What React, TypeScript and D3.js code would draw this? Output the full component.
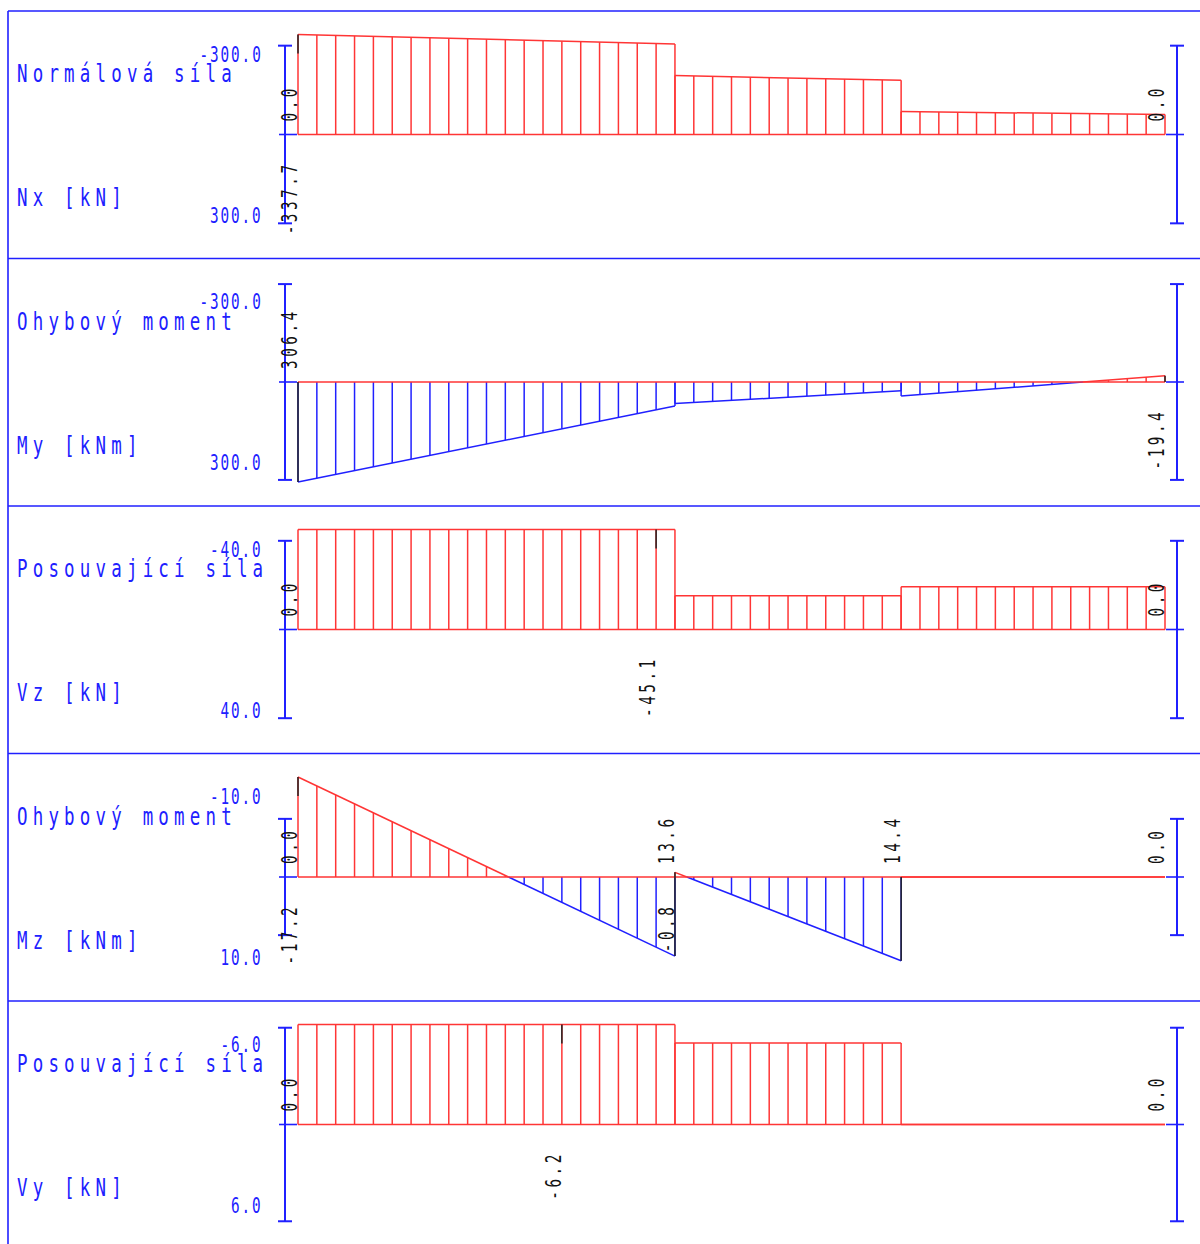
import React, { useEffect, useRef } from 'react';
import * as d3 from 'd3';

const W = 1200, H = 1244;

// beam elements, in hatch divisions along the member
const elemFrom = [0, 20, 32];
const elemTo = [20, 32, 46];

const titles = ['Normálová síla', 'Ohybový moment', 'Posouvající síla', 'Ohybový moment', 'Posouvající síla'];
const units = ['Nx [kN]', 'My [kNm]', 'Vz [kN]', 'Mz [kNm]', 'Vy [kN]'];
const tickValues = [300, 300, 40, 10, 6];
const topTickLabels = ['-300.0', '-300.0', '-40.0', '-10.0', '-6.0'];
const bottomTickLabels = ['300.0', '300.0', '40.0', '10.0', '6.0'];

// values at start / end of each element
const nxStart = [-337.7, -199.0, -77.5];
const nxEnd = [-305.7, -183.0, -67.4];
const myStart = [306.4, 66.0, 43.0];
const myEnd = [73.6, 27.0, -19.4];
const vzStart = [-45.1, -15.2, -19.3];
const vzEnd = [-45.1, -15.2, -19.3];
const mzStart = [-17.2, -0.8, 0];
const mzEnd = [13.6, 14.4, 0];
const vyStart = [-6.2, -5.05, 0];
const vyEnd = [-6.2, -5.05, 0];

// printed values (division, text, side of the zero line)
const nxLabels = [{ at: 0, text: '0.0', side: 'up' }, { at: 0, text: '-337.7', side: 'down' }, { at: 46, text: '0.0', side: 'up' }];
const myLabels = [{ at: 0, text: '306.4', side: 'up' }, { at: 46, text: '-19.4', side: 'down' }];
const vzLabels = [{ at: 0, text: '0.0', side: 'up' }, { at: 19, text: '-45.1', side: 'down' }, { at: 46, text: '0.0', side: 'up' }];
const mzLabels = [
  { at: 0, text: '0.0', side: 'up' }, { at: 0, text: '-17.2', side: 'down' },
  { at: 20, text: '13.6', side: 'up' }, { at: 20, text: '-0.8', side: 'down' },
  { at: 32, text: '14.4', side: 'up' }, { at: 46, text: '0.0', side: 'up' },
];
const vyLabels = [{ at: 0, text: '0.0', side: 'up' }, { at: 14, text: '-6.2', side: 'down' }, { at: 46, text: '0.0', side: 'up' }];

// extreme value markers
const nxMarks = [{ at: 0, value: -337.7 }];
const myMarks = [{ at: 0, value: 306.4 }, { at: 46, value: -19.4 }];
const vzMarks = [{ at: 19, value: -45.1 }];
const mzMarks = [{ at: 0, value: -17.2 }, { at: 20, value: 13.6 }, { at: 20, value: -0.8 }, { at: 32, value: 14.4 }];
const vyMarks = [{ at: 14, value: -6.2 }];

const seriesStart = [nxStart, myStart, vzStart, mzStart, vyStart];
const seriesEnd = [nxEnd, myEnd, vzEnd, mzEnd, vyEnd];
const seriesLabels = [nxLabels, myLabels, vzLabels, mzLabels, vyLabels];
const seriesMarks = [nxMarks, myMarks, vzMarks, mzMarks, vyMarks];

const BLUE = '#2020ff';
const RED = '#ff3535';
const FONT = 'DejaVu Sans Mono';

function plotText(g, str, x, y, o) {
  g.append('text')
    .attr('transform', `translate(${x},${y}) rotate(${o.rotate || 0}) scale(${o.sx},1)`)
    .attr('font-family', FONT)
    .attr('font-size', o.size)
    .attr('letter-spacing', o.ls)
    .attr('fill', o.fill)
    .text(str);
}

const App = () => {
  const ref = useRef(null);

  useEffect(() => {
    const svg = d3.select(ref.current);
    svg.selectAll('*').remove();

    const x = d3.scaleLinear().domain([0, 46]).range([298, 1165]);
    const panelH = 247.5;
    const axisL = 285, axisR = 1177;

    // panel frames
    d3.range(5).forEach(i => {
      const t = 11 + i * panelH;
      svg.append('line').attr('x1', 8).attr('x2', W).attr('y1', t).attr('y2', t)
        .attr('stroke', BLUE).attr('stroke-width', 1.6);
    });
    svg.append('line').attr('x1', 8).attr('x2', 8).attr('y1', 11).attr('y2', H)
      .attr('stroke', BLUE).attr('stroke-width', 1.6);

    d3.range(5).forEach(i => {
      const top = 11 + i * panelH;
      const zero = top + 123.5;
      const v0s = seriesStart[i], v1s = seriesEnd[i];
      const maxAbs = d3.max(v0s.concat(v1s), v => Math.abs(v));
      const y = d3.scaleLinear().domain([-maxAbs, maxAbs]).range([zero - 100, zero + 100]);
      const g = svg.append('g');
      const tv = tickValues[i];

      // titles and scale labels
      plotText(g, titles[i], 17, top + 71, { size: 25, sx: 0.7, ls: 7.4, fill: BLUE });
      plotText(g, units[i], 17, top + 195, { size: 25, sx: 0.7, ls: 7.4, fill: BLUE });
      const tl = topTickLabels[i], bl = bottomTickLabels[i];
      plotText(g, tl, 262.5 - tl.length * 10.5, top + 50.5, { size: 20.5, sx: 0.7, ls: 2.7, fill: BLUE });
      plotText(g, bl, 262.5 - bl.length * 10.5, top + 211.5, { size: 20.5, sx: 0.7, ls: 2.7, fill: BLUE });

      // scale axes on both sides
      [axisL, axisR].forEach((ax, k) => {
        g.append('line').attr('x1', ax).attr('x2', ax).attr('y1', y(-tv)).attr('y2', y(tv))
          .attr('stroke', BLUE).attr('stroke-width', 2);
        [-tv, tv].forEach(v => {
          g.append('line').attr('x1', ax - 7).attr('x2', ax + 7).attr('y1', y(v)).attr('y2', y(v))
            .attr('stroke', BLUE).attr('stroke-width', 2);
        });
        g.append('line').attr('x1', k === 0 ? ax - 6 : ax - 11).attr('x2', k === 0 ? ax + 12 : ax + 7)
          .attr('y1', y(0)).attr('y2', y(0)).attr('stroke', BLUE).attr('stroke-width', 1.6);
      });

      // hatch
      elemFrom.forEach((f, e) => {
        const t = elemTo[e], a = v0s[e], b = v1s[e];
        d3.range(f, t + 1).forEach(d => {
          const v = a + (b - a) * (d - f) / (t - f);
          if (v === 0) return;
          g.append('line').attr('x1', x(d)).attr('x2', x(d)).attr('y1', y(0)).attr('y2', y(v))
            .attr('stroke', v < 0 ? RED : BLUE).attr('stroke-width', 1.5);
        });
      });

      // diagram outline
      const line = d3.line().x(p => x(p[0])).y(p => y(p[1]));
      elemFrom.forEach((f, e) => {
        const t = elemTo[e], a = v0s[e], b = v1s[e];
        let parts = [[[f, a], [t, b]]];
        if (a * b < 0) {
          const c = f + (t - f) * a / (a - b);
          parts = [[[f, a], [c, 0]], [[c, 0], [t, b]]];
        }
        parts.forEach(p => {
          const s = p[0][1] + p[1][1];
          g.append('path').attr('d', line(p)).attr('fill', 'none')
            .attr('stroke', s <= 0 ? RED : BLUE).attr('stroke-width', 1.5);
        });
      });
      g.append('line').attr('x1', x(0)).attr('x2', x(46)).attr('y1', y(0)).attr('y2', y(0))
        .attr('stroke', RED).attr('stroke-width', 1.7);

      // extreme markers
      seriesMarks[i].forEach(m => {
        const y1 = y(m.value);
        const full = Math.abs(y(0) - y1);
        const len = m.value < 0 ? Math.min(full, 19) : full;
        g.append('line').attr('x1', x(m.at)).attr('x2', x(m.at))
          .attr('y1', y1).attr('y2', y1 + Math.sign(y(0) - y1) * len)
          .attr('stroke', '#222').attr('stroke-width', 1.5);
      });

      // value labels
      seriesLabels[i].forEach(l => {
        const len = l.text.length * 12.3 - 4;
        const sy = l.side === 'up' ? y(0) - 13 : y(0) + 30 + len;
        plotText(g, l.text, x(l.at) - 1, sy, { size: 20.5, sx: 0.7, ls: 5, fill: '#111', rotate: -90 });
      });
    });
  }, []);

  return (
    <svg ref={ref} width={W} height={H}
      style={{ position: 'absolute', left: 0, top: 0, display: 'block', background: '#fff' }} />
  );
};

export default App;
